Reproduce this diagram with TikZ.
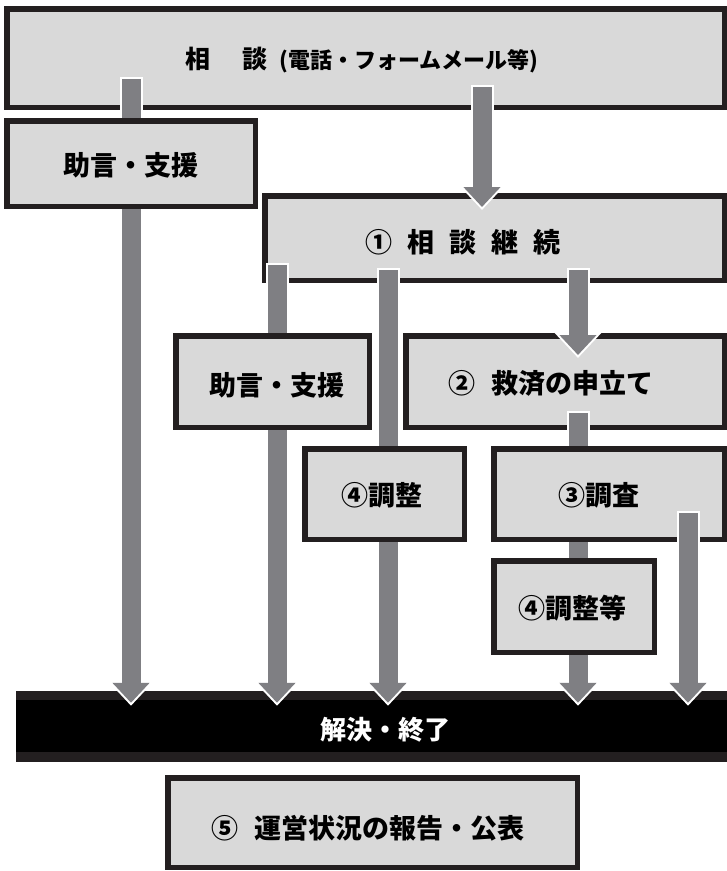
\documentclass[tikz,border=0pt]{standalone}
\usepackage{fontspec}
\newfontfamily\jp{Noto Sans CJK JP}
\usetikzlibrary{arrows.meta}
\definecolor{boxfill}{HTML}{D9D9D9}
\definecolor{boxline}{HTML}{231F20}
\definecolor{arrgray}{HTML}{7F7F83}
\pgfdeclarelayer{fg}
\pgfdeclarelayer{topl}
\pgfsetlayers{main,fg,topl}
\begin{document}
\begin{tikzpicture}[x=1pt,y=-1pt,
  box/.style={draw=boxline, fill=boxfill, line width=5.5pt, inner sep=0pt},
  lbl/.style={font=\jp\bfseries\fontsize{27}{32}\selectfont, text=black, inner sep=0pt},
  garrow/.style={draw=arrgray, line width=19pt, -{Triangle[width=36pt,length=20pt]},
    preaction={draw=white, line width=23pt, -{Triangle[width=45pt,length=25pt]},
      shorten <=-2pt, shorten >=-3pt}}]
\useasboundingbox (0,0) rectangle (727,871);

% background boxes
\node[box, minimum width=717.5pt, minimum height=98.5pt] (top) at (365.5,58) {};
\node[lbl] (ttop) at (362,60) {{\fontsize{25}{30}\selectfont 相\hspace{1.25em}談}\hspace{0.45em}{\fontsize{22}{26}\selectfont (電話・フォームメール等)}};
\node[box, minimum width=459.5pt, minimum height=84.5pt] (c1) at (494.5,238) {};
\node[lbl] (tc1) at (463,242) {①\hspace{0.55em}相\hspace{0.55em}談\hspace{0.55em}継\hspace{0.55em}続};
\node[box, minimum width=318.5pt, minimum height=91.5pt] (c2) at (565,381.5) {};
\node[lbl] (tc2) at (551,383) {②\hspace{0.6em}救済の申立て};
\node[fill=boxline, minimum width=711pt, minimum height=71pt, inner sep=0pt] (bar) at (371.5,726.5) {};
\fill[black] ([yshift=-9pt]bar.north west) rectangle ([yshift=10pt]bar.south east);
\node[lbl, text=white, font=\jp\bfseries\fontsize{26}{30}\selectfont] (tbar) at (385,730) {解決・終了};
\node[box, minimum width=409.5pt, minimum height=89.5pt] (rep) at (372.5,822.5) {};
\node[lbl] (trep) at (368,828) {⑤\hspace{0.6em}運営状況の報告・公表};

% foreground boxes (drawn over passing arrows)
\begin{pgfonlayer}{fg}
\node[box, minimum width=248.5pt, minimum height=85.5pt] (jos1) at (131,163.5) {};
\node[lbl] (tjos1) at (131,165) {助言・支援};
\node[box, minimum width=193.5pt, minimum height=91.5pt] (jos2) at (272.5,381.5) {};
\node[lbl] (tjos2) at (277,385) {助言・支援};
\node[box, minimum width=159.5pt, minimum height=90.5pt] (adj) at (384.5,494) {};
\node[lbl] (tadj) at (382,495) {④調整};
\node[box, minimum width=230.5pt, minimum height=90.5pt] (inv) at (609,494) {};
\node[lbl] (tinv) at (599,495) {③調査};
\node[box, minimum width=160.5pt, minimum height=91.5pt] (adj2) at (574,606.5) {};
\node[lbl] (tadj2) at (572,608) {④調整等};
\end{pgfonlayer}

% arrow columns
\coordinate (x1) at (131,0);
\coordinate (x2) at (482,0);
\coordinate (x3) at (277,0);
\coordinate (x4) at (388,0);
\coordinate (x5) at (578,0);
\coordinate (x7) at (688,0);

\draw[garrow] ([yshift=31pt]top.south -| x1) -- ([yshift=-12pt]bar.north -| x1);
\draw[garrow] ([yshift=23pt]top.south -| x2) -- ([yshift=-14pt]c1.north -| x2);
\draw[garrow] ([yshift=18pt]c1.south -| x3) -- ([yshift=-12pt]bar.north -| x3);
\draw[garrow] ([yshift=13pt]c1.south -| x4) -- ([yshift=-12pt]bar.north -| x4);
\draw[garrow] ([yshift=13pt]c1.south -| x5) -- ([yshift=-22pt]c2.north -| x5);
\draw[garrow] ([yshift=17pt]c2.south -| x5) -- ([yshift=-12pt]bar.north -| x5);
\begin{pgfonlayer}{topl}
\draw[garrow] ([yshift=29pt]inv.south -| x7) -- ([yshift=-12pt]bar.north -| x7);
\end{pgfonlayer}
\end{tikzpicture}
\end{document}
